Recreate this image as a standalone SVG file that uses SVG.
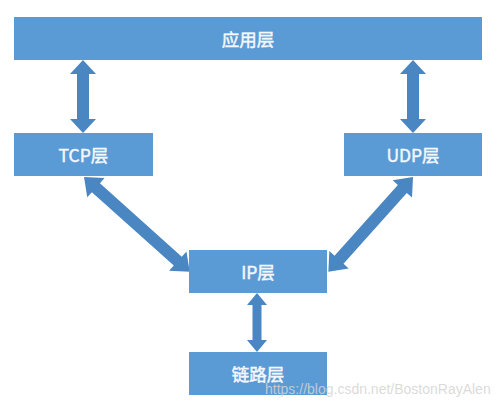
<svg xmlns="http://www.w3.org/2000/svg" width="500" height="407" viewBox="0 0 500 407">
<style>
.box{fill:#5b9bd5;}
.arrow{fill:#4a86c1;}
.lbl{font-family:"Noto Sans CJK SC","Liberation Sans",sans-serif;font-size:17.5px;fill:#f4f8fc;stroke:#f4f8fc;stroke-width:0.45;text-anchor:middle;dominant-baseline:central;}
.wm{font-family:"Liberation Sans",Arial,sans-serif;font-size:14px;fill:#d4d4d4;fill-opacity:0.85;}
</style>
<rect width="500" height="407" fill="#ffffff"/>
<g id="connectors">
<path class="arrow" transform="translate(83,60) rotate(90)" d="M0,0 L14,-13 L14,-6 L59,-6 L59,-13 L73,0 L59,13 L59,6 L14,6 L14,13 Z"/>
<path class="arrow" transform="translate(413,60) rotate(90)" d="M0,0 L14,-13 L14,-6 L59,-6 L59,-13 L73,0 L59,13 L59,6 L14,6 L14,13 Z"/>
<path class="arrow" transform="translate(84,177) rotate(41.9)" d="M0,0 L16,-13 L16,-6 L126,-6 L126,-13 L142,0 L126,13 L126,6 L16,6 L16,13 Z"/>
<path class="arrow" transform="translate(413,177) rotate(131.8)" d="M0,0 L16,-13 L16,-6 L111,-6 L111,-13 L127,0 L111,13 L111,6 L16,6 L16,13 Z"/>
<path class="arrow" transform="translate(257,293) rotate(90)" d="M0,0 L12,-10 L12,-4.5 L47,-4.5 L47,-10 L59,0 L47,10 L47,4.5 L12,4.5 L12,10 Z"/>
</g>
<g id="app">
<rect class="box" x="14" y="17" width="468" height="43"/>
<text class="lbl" x="248" y="38.5">应用层</text>
</g>
<g id="tcp">
<rect class="box" x="14" y="133" width="139" height="43"/>
<text class="lbl" x="83.5" y="154.5">TCP层</text>
</g>
<g id="udp">
<rect class="box" x="344" y="133" width="138" height="43"/>
<text class="lbl" x="413" y="154.5">UDP层</text>
</g>
<g id="ip">
<rect class="box" x="189" y="250" width="138" height="43"/>
<text class="lbl" x="258" y="271.5">IP层</text>
</g>
<g id="link">
<rect class="box" x="189" y="352" width="138" height="43"/>
<text class="lbl" x="258" y="373.5">链路层</text>
</g>
<text class="wm" x="265" y="394">https://blog.csdn.net/BostonRayAlen</text>
</svg>
